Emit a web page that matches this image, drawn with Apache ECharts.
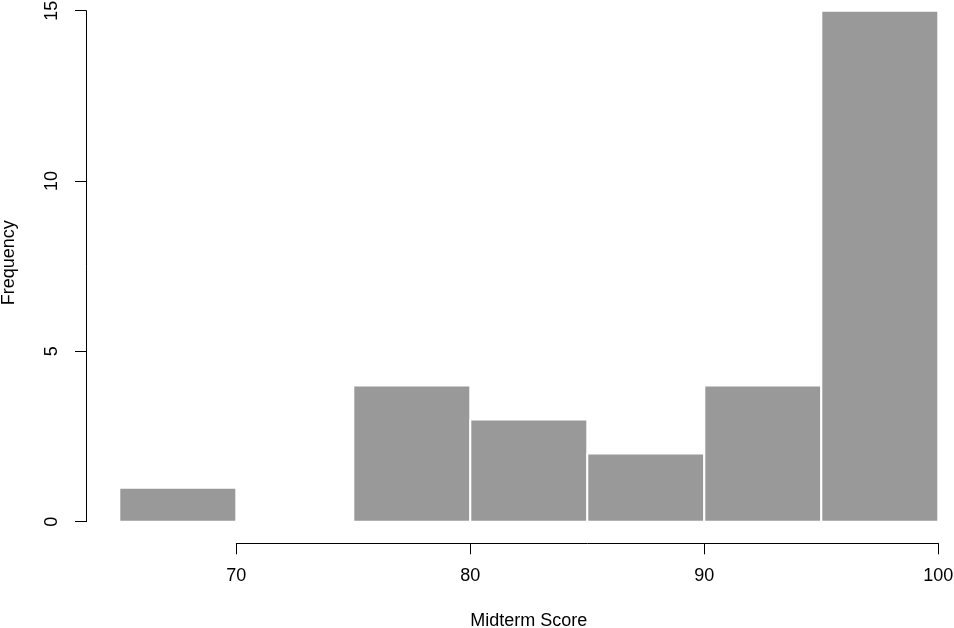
<!DOCTYPE html>
<html>
<head>
<meta charset="utf-8">
<script src="https://cdn.jsdelivr.net/npm/echarts@6/dist/echarts.min.js"></script>
<style>
html,body{margin:0;padding:0;background:#fff;}
#chart{width:954px;height:628px;}
</style>
</head>
<body>
<div id="chart"></div>
<script>
// Histogram of midterm scores
const binStarts = [65, 70, 75, 80, 85, 90, 95];
const binEnds   = [70, 75, 80, 85, 90, 95, 100];
const counts    = [1, 0, 4, 3, 2, 4, 15];
const xTickMin = 70, xTickMax = 100, xTickStep = 10;
const yTickMin = 0, yTickMax = 15, yTickStep = 5;
const xTitle = 'Midterm Score';
const yTitle = 'Frequency';

const FONT = '"Liberation Sans", Helvetica, Arial, sans-serif';
const FS = 18;
const data = binStarts.map((s, i) => [s, binEnds[i], counts[i]]);

const chart = echarts.init(document.getElementById('chart'), null, {renderer: 'canvas'});
chart.setOption({
  animation: false,
  backgroundColor: '#ffffff',
  grid: [
    {left: 119.3, right: 15.7, top: 10.7, bottom: 106.3, containLabel: false, outerBoundsMode: 'none'},
    {left: 236.3, right: 15.7, top: 10.7, bottom: 106.3, containLabel: false, outerBoundsMode: 'none'}
  ],
  xAxis: [
    {
      gridIndex: 0, type: 'value', min: 65, max: 100,
      axisLine: {show: false, onZero: false}, axisTick: {show: false}, axisLabel: {show: false},
      splitLine: {show: false},
      name: xTitle, nameLocation: 'middle', nameGap: 90,
      nameTextStyle: {fontFamily: FONT, fontSize: FS, color: '#000'}
    },
    {
      gridIndex: 1, type: 'value', min: xTickMin, max: xTickMax, interval: xTickStep,
      offset: 21.6,
      axisLine: {show: true, onZero: false, lineStyle: {color: '#000', width: 1}},
      axisTick: {show: true, length: 11, lineStyle: {color: '#000', width: 1}},
      axisLabel: {show: true, margin: 24, fontFamily: FONT, fontSize: FS, color: '#000'},
      splitLine: {show: false}
    }
  ],
  yAxis: [
    {
      gridIndex: 0, type: 'value', min: yTickMin, max: yTickMax, interval: yTickStep,
      offset: 33.3,
      axisLine: {show: true, onZero: false, lineStyle: {color: '#000', width: 1}},
      axisTick: {show: true, length: 11, lineStyle: {color: '#000', width: 1}},
      axisLabel: {show: true, rotate: 90, margin: 24.5, fontFamily: FONT, fontSize: FS, color: '#000'},
      splitLine: {show: false},
      name: yTitle, nameLocation: 'middle', nameRotate: 90, nameGap: 68,
      nameTextStyle: {fontFamily: FONT, fontSize: FS, color: '#000', padding: [0, 0, 0, 7]}
    },
    {
      gridIndex: 1, type: 'value', min: 0, max: 15, show: false
    }
  ],
  series: [{
    type: 'custom',
    xAxisIndex: 0, yAxisIndex: 0,
    data: data,
    encode: {x: [0, 1], y: 2},
    renderItem: function (params, api) {
      const s = api.value(0), e = api.value(1), c = api.value(2);
      const p0 = api.coord([s, c]);
      const p1 = api.coord([e, 0]);
      return {
        type: 'rect',
        shape: {x: p0[0], y: p0[1], width: p1[0] - p0[0], height: p1[1] - p0[1]},
        style: {fill: '#999999', stroke: '#ffffff', lineWidth: 2}
      };
    }
  }]
});
</script>
</body>
</html>
